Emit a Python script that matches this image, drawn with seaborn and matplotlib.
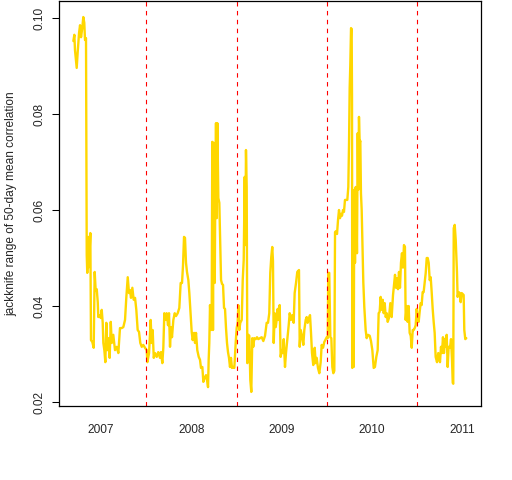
#!/usr/bin/env python3
# jackknife range of 50-day mean correlation, 2007-2011

import numpy as np
import pandas as pd
import matplotlib
matplotlib.use("Agg")
import matplotlib.pyplot as plt
import seaborn as sns

# decimal year of each reading
years = [
    2007.192, 2007.203, 2007.210, 2007.229, 2007.240, 2007.255, 2007.266, 2007.277, 2007.291, 2007.302,
    2007.313, 2007.321, 2007.332, 2007.340, 2007.346, 2007.358, 2007.365, 2007.380, 2007.387, 2007.402,
    2007.417, 2007.428, 2007.439, 2007.451, 2007.462, 2007.468, 2007.484, 2007.495, 2007.506, 2007.517,
    2007.524, 2007.535, 2007.546, 2007.557, 2007.568, 2007.579, 2007.594, 2007.606, 2007.617, 2007.634,
    2007.653, 2007.672, 2007.690, 2007.708, 2007.727, 2007.745, 2007.764, 2007.778, 2007.794, 2007.808,
    2007.819, 2007.830, 2007.845, 2007.860, 2007.875, 2007.889, 2007.904, 2007.919, 2007.933, 2007.949,
    2007.966, 2007.985, 2008.004, 2008.011, 2008.030, 2008.048, 2008.059, 2008.070, 2008.082, 2008.096,
    2008.115, 2008.132, 2008.151, 2008.162, 2008.177, 2008.188, 2008.199, 2008.214, 2008.225, 2008.240,
    2008.251, 2008.262, 2008.273, 2008.284, 2008.299, 2008.314, 2008.328, 2008.347, 2008.365, 2008.380,
    2008.395, 2008.406, 2008.417, 2008.428, 2008.439, 2008.450, 2008.465, 2008.476, 2008.487, 2008.502,
    2008.513, 2008.528, 2008.539, 2008.550, 2008.564, 2008.580, 2008.594, 2008.605, 2008.620, 2008.631,
    2008.646, 2008.661, 2008.672, 2008.683, 2008.690, 2008.697, 2008.705, 2008.716, 2008.724, 2008.730,
    2008.738, 2008.746, 2008.757, 2008.763, 2008.771, 2008.779, 2008.786, 2008.797, 2008.808, 2008.819,
    2008.827, 2008.838, 2008.849, 2008.860, 2008.871, 2008.882, 2008.893, 2008.904, 2008.915, 2008.926,
    2008.937, 2008.948, 2008.963, 2008.974, 2008.989, 2009.000, 2009.011, 2009.018, 2009.029, 2009.040,
    2009.056, 2009.067, 2009.078, 2009.089, 2009.096, 2009.103, 2009.111, 2009.118, 2009.129, 2009.140,
    2009.151, 2009.162, 2009.173, 2009.184, 2009.195, 2009.211, 2009.225, 2009.239, 2009.258, 2009.277,
    2009.295, 2009.314, 2009.332, 2009.347, 2009.361, 2009.372, 2009.383, 2009.394, 2009.402, 2009.410,
    2009.421, 2009.432, 2009.443, 2009.454, 2009.465, 2009.476, 2009.487, 2009.499, 2009.510, 2009.521,
    2009.535, 2009.546, 2009.561, 2009.576, 2009.587, 2009.601, 2009.616, 2009.631, 2009.642, 2009.657,
    2009.671, 2009.690, 2009.698, 2009.709, 2009.723, 2009.738, 2009.749, 2009.764, 2009.775, 2009.786,
    2009.801, 2009.812, 2009.823, 2009.834, 2009.848, 2009.864, 2009.875, 2009.886, 2009.900, 2009.915,
    2009.930, 2009.941, 2009.956, 2009.970, 2009.986, 2009.997, 2010.008, 2010.014, 2010.025, 2010.037,
    2010.048, 2010.059, 2010.070, 2010.081, 2010.089, 2010.100, 2010.111, 2010.122, 2010.133, 2010.144,
    2010.155, 2010.166, 2010.177, 2010.188, 2010.199, 2010.210, 2010.225, 2010.236, 2010.244, 2010.251,
    2010.258, 2010.266, 2010.273, 2010.277, 2010.280, 2010.288, 2010.296, 2010.302, 2010.310, 2010.318,
    2010.324, 2010.332, 2010.340, 2010.346, 2010.354, 2010.362, 2010.369, 2010.376, 2010.384, 2010.395,
    2010.402, 2010.413, 2010.428, 2010.439, 2010.454, 2010.473, 2010.487, 2010.502, 2010.517, 2010.531,
    2010.546, 2010.561, 2010.572, 2010.583, 2010.594, 2010.606, 2010.617, 2010.628, 2010.639, 2010.650,
    2010.661, 2010.672, 2010.686, 2010.701, 2010.716, 2010.731, 2010.742, 2010.753, 2010.764, 2010.775,
    2010.786, 2010.797, 2010.808, 2010.819, 2010.830, 2010.841, 2010.852, 2010.863, 2010.871, 2010.882,
    2010.893, 2010.904, 2010.915, 2010.927, 2010.938, 2010.949, 2010.960, 2010.971, 2010.982, 2010.993,
    2011.004, 2011.015, 2011.026, 2011.037, 2011.048, 2011.059, 2011.070, 2011.082, 2011.093, 2011.104,
    2011.115, 2011.126, 2011.137, 2011.148, 2011.159, 2011.170, 2011.181, 2011.192, 2011.203, 2011.218,
    2011.232, 2011.251, 2011.262, 2011.273, 2011.284, 2011.295, 2011.306, 2011.317, 2011.325, 2011.336,
    2011.347, 2011.362, 2011.373, 2011.384, 2011.392, 2011.398, 2011.403, 2011.414, 2011.425, 2011.431,
    2011.439, 2011.446, 2011.458, 2011.469, 2011.480, 2011.491, 2011.502, 2011.513, 2011.520, 2011.531,
    2011.542,
]

jk_range = [
    0.0952, 0.0965, 0.0933, 0.0896, 0.0929, 0.0969, 0.0985, 0.0960, 0.0980, 0.1002,
    0.0990, 0.0954, 0.0958, 0.0506, 0.0469, 0.0544, 0.0481, 0.0552, 0.0329, 0.0325,
    0.0313, 0.0471, 0.0433, 0.0435, 0.0408, 0.0377, 0.0381, 0.0375, 0.0392, 0.0365,
    0.0323, 0.0308, 0.0283, 0.0365, 0.0308, 0.0333, 0.0292, 0.0367, 0.0323, 0.0340,
    0.0308, 0.0315, 0.0302, 0.0354, 0.0354, 0.0356, 0.0371, 0.0417, 0.0460, 0.0427,
    0.0433, 0.0417, 0.0438, 0.0413, 0.0417, 0.0392, 0.0350, 0.0346, 0.0323, 0.0315,
    0.0319, 0.0313, 0.0308, 0.0283, 0.0302, 0.0371, 0.0323, 0.0350, 0.0292, 0.0302,
    0.0294, 0.0304, 0.0292, 0.0304, 0.0281, 0.0313, 0.0385, 0.0371, 0.0385, 0.0360,
    0.0385, 0.0315, 0.0356, 0.0335, 0.0371, 0.0385, 0.0379, 0.0385, 0.0396, 0.0448,
    0.0448, 0.0485, 0.0544, 0.0542, 0.0490, 0.0471, 0.0454, 0.0427, 0.0392, 0.0346,
    0.0329, 0.0344, 0.0323, 0.0344, 0.0308, 0.0294, 0.0288, 0.0271, 0.0273, 0.0242,
    0.0250, 0.0256, 0.0246, 0.0231, 0.0288, 0.0323, 0.0402, 0.0350, 0.0400, 0.0742,
    0.0350, 0.0740, 0.0448, 0.0621, 0.0781, 0.0583, 0.0781, 0.0625, 0.0615, 0.0523,
    0.0454, 0.0446, 0.0444, 0.0396, 0.0394, 0.0354, 0.0323, 0.0304, 0.0292, 0.0273,
    0.0292, 0.0271, 0.0273, 0.0271, 0.0323, 0.0354, 0.0365, 0.0402, 0.0350, 0.0365,
    0.0371, 0.0454, 0.0496, 0.0669, 0.0527, 0.0725, 0.0648, 0.0281, 0.0340, 0.0338,
    0.0246, 0.0221, 0.0333, 0.0315, 0.0333, 0.0331, 0.0335, 0.0331, 0.0333, 0.0335,
    0.0327, 0.0338, 0.0365, 0.0365, 0.0385, 0.0469, 0.0502, 0.0523, 0.0494, 0.0323,
    0.0385, 0.0356, 0.0371, 0.0394, 0.0371, 0.0402, 0.0294, 0.0308, 0.0302, 0.0331,
    0.0273, 0.0302, 0.0331, 0.0360, 0.0385, 0.0371, 0.0381, 0.0365, 0.0427, 0.0448,
    0.0471, 0.0475, 0.0315, 0.0350, 0.0338, 0.0319, 0.0350, 0.0371, 0.0377, 0.0365,
    0.0375, 0.0381, 0.0344, 0.0302, 0.0277, 0.0313, 0.0281, 0.0292, 0.0271, 0.0260,
    0.0283, 0.0319, 0.0313, 0.0325, 0.0331, 0.0335, 0.0333, 0.0469, 0.0469, 0.0335,
    0.0333, 0.0273, 0.0260, 0.0265, 0.0554, 0.0556, 0.0550, 0.0579, 0.0600, 0.0583,
    0.0592, 0.0588, 0.0600, 0.0596, 0.0621, 0.0621, 0.0621, 0.0648, 0.0740, 0.0854,
    0.0902, 0.0979, 0.0977, 0.0835, 0.0271, 0.0621, 0.0273, 0.0642, 0.0490, 0.0648,
    0.0621, 0.0510, 0.0760, 0.0642, 0.0794, 0.0740, 0.0744, 0.0635, 0.0600, 0.0502,
    0.0450, 0.0398, 0.0350, 0.0333, 0.0340, 0.0338, 0.0327, 0.0308, 0.0271, 0.0273,
    0.0294, 0.0308, 0.0385, 0.0388, 0.0419, 0.0392, 0.0413, 0.0385, 0.0406, 0.0377,
    0.0385, 0.0367, 0.0375, 0.0406, 0.0377, 0.0423, 0.0444, 0.0465, 0.0438, 0.0458,
    0.0435, 0.0471, 0.0438, 0.0490, 0.0510, 0.0480, 0.0527, 0.0523, 0.0371, 0.0400,
    0.0367, 0.0400, 0.0344, 0.0338, 0.0313, 0.0350, 0.0350, 0.0354, 0.0360, 0.0394,
    0.0371, 0.0367, 0.0388, 0.0406, 0.0402, 0.0429, 0.0429, 0.0450, 0.0469, 0.0500,
    0.0500, 0.0490, 0.0454, 0.0460, 0.0429, 0.0394, 0.0367, 0.0344, 0.0294, 0.0283,
    0.0302, 0.0283, 0.0315, 0.0302, 0.0335, 0.0302, 0.0331, 0.0315, 0.0340, 0.0273,
    0.0315, 0.0313, 0.0331, 0.0288, 0.0240, 0.0238, 0.0562, 0.0569, 0.0538, 0.0510,
    0.0471, 0.0419, 0.0429, 0.0427, 0.0408, 0.0427, 0.0425, 0.0423, 0.0350, 0.0331,
    0.0333,
]

year_breaks = [2008, 2009, 2010, 2011]
year_labels = ["2007", "2008", "2009", "2010", "2011"]
label_pos = [2007.5, 2008.5, 2009.5, 2010.5, 2011.5]
y_ticks = [0.02, 0.04, 0.06, 0.08, 0.10]

df = pd.DataFrame({"year": years, "range": jk_range})

sns.set_style("ticks")
plt.rcParams["font.family"] = ["Liberation Sans", "DejaVu Sans"]

fig = plt.figure(figsize=(5.12, 4.8), dpi=100)
ax = fig.add_axes([59 / 512, 74 / 480, 422 / 512, 405 / 480])

sns.lineplot(data=df, x="year", y="range", ax=ax, color="#FFD700",
             linewidth=1.7, sort=False, estimator=None)

for b in year_breaks:
    ax.axvline(b, color="red", linewidth=0.8, linestyle=(0, (4, 4)))

ax.set_xlim(2007.033, 2011.705)
ax.set_ylim(0.01917, 0.10354)

ax.set_xticks(label_pos)
ax.set_xticklabels(year_labels, fontsize=8.6)
ax.tick_params(axis="x", length=0, pad=13)

ax.set_yticks(y_ticks)
ax.set_yticklabels([f"{t:.2f}" for t in y_ticks], fontsize=8.6,
                   rotation=90, va="center")
ax.tick_params(axis="y", length=5, width=0.75, color="black", pad=5)

ax.set_xlabel("")
ax.set_ylabel("jackknife range of 50-day mean correlation", fontsize=8.6)
ax.yaxis.set_label_coords(-0.098, 0.5)

for s in ax.spines.values():
    s.set_visible(True)
    s.set_color("black")
    s.set_linewidth(0.9)

fig.savefig("out.png", dpi=100)
